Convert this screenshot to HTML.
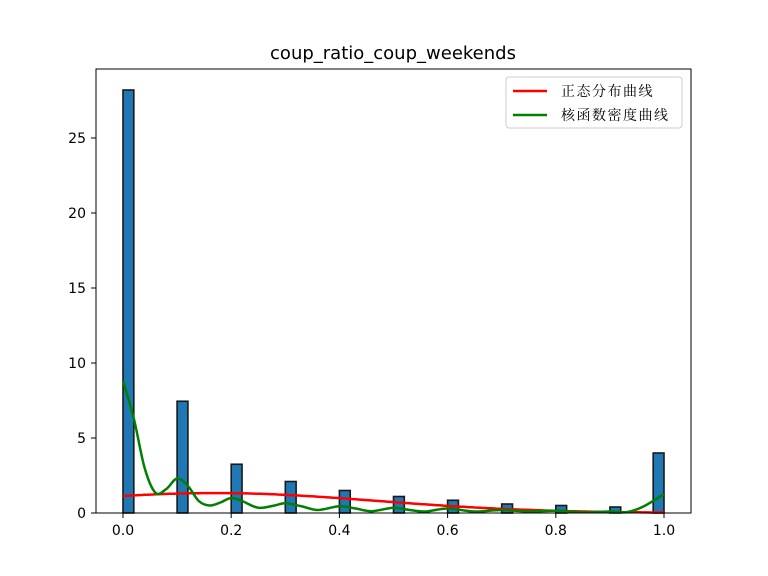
<!DOCTYPE html>
<html><head><meta charset="utf-8"><style>
body{margin:0;background:#fff}
svg{display:block;font-family:"DejaVu Sans","Liberation Sans",sans-serif}
</style></head><body>
<svg id="c" width="768" height="576">
<rect x="0" y="0" width="768" height="576" fill="#fff"/>
<text x="393" y="59" text-anchor="middle" font-size="18">coup_ratio_coup_weekends</text>
<g id="bars"></g>
<g id="lines"></g>
<rect x="96" y="69" width="595" height="444" fill="none" stroke="#000" stroke-width="1"/>
<g id="axes" font-size="14"></g>
<g>
<rect x="506" y="77" width="176" height="51" fill="#fff" stroke="#ccc" rx="3"/>
<line x1="513" y1="91" x2="547" y2="91" stroke="red" stroke-width="2.5"/>
<text x="561" y="96" font-size="14" letter-spacing="1.5" font-family="'Liberation Serif','Noto Serif CJK SC',serif">正态分布曲线</text>
<line x1="513" y1="115" x2="547" y2="115" stroke="green" stroke-width="2.5"/>
<text x="561" y="120" font-size="14" letter-spacing="1.5" font-family="'Liberation Serif','Noto Serif CJK SC',serif">核函数密度曲线</text>
</g>
</svg>
<script>
const binStarts=[0.0,0.1,0.2,0.3,0.4,0.5,0.6,0.7,0.8,0.9,0.98];
const binHeights=[28.2,7.45,3.25,2.1,1.5,1.1,0.85,0.6,0.5,0.4,4.0];
const binWidth=0.02;
const normMean=0.17, normSd=0.3;
const kdeX=[0,0.02,0.04,0.06,0.08,0.1,0.12,0.14,0.16,0.18,0.2,0.22,0.25,0.28,0.3,0.33,0.36,0.4,0.43,0.46,0.5,0.53,0.56,0.6,0.65,0.7,0.75,0.8,0.85,0.9,0.93,0.96,1.0];
const kdeY=[8.8,6.3,3.0,1.35,1.6,2.3,1.8,0.8,0.5,0.7,1.0,0.8,0.35,0.5,0.65,0.45,0.2,0.45,0.3,0.12,0.35,0.2,0.1,0.3,0.1,0.2,0.1,0.15,0.05,0.1,0.05,0.4,1.25];
const xTicks=[0,0.2,0.4,0.6,0.8,1.0];
const xTickLabels=["0.0","0.2","0.4","0.6","0.8","1.0"];
const yTicks=[0,5,10,15,20,25];
const X=v=>123+v*541, Y=v=>513-v*15;
const NS="http://www.w3.org/2000/svg";
function mk(t,a,p){const e=document.createElementNS(NS,t);for(const k in a)e.setAttribute(k,a[k]);p.appendChild(e);return e;}
const bars=document.getElementById('bars');
binStarts.forEach((s,i)=>{const r=mk('rect',{x:X(s),y:Y(binHeights[i]),width:X(s+binWidth)-X(s),height:Y(0)-Y(binHeights[i]),fill:'#1f77b4',stroke:'#1a1a1a','stroke-width':1.6},bars);

});
const lines=document.getElementById('lines');
let d='';for(let i=0;i<=200;i++){const v=i/200;const y=Math.exp(-((v-normMean)**2)/(2*normSd*normSd))/(normSd*Math.sqrt(2*Math.PI));d+=(i?'L':'M')+X(v).toFixed(1)+','+Y(y).toFixed(1);}
const n=mk('path',{d:d,fill:'none',stroke:'red','stroke-width':2.5},lines);


const P=kdeX.map((v,i)=>[X(v),Y(kdeY[i])]);
let k='M'+P[0][0]+','+P[0][1];
for(let i=0;i<P.length-1;i++){const p0=P[Math.max(0,i-1)],p1=P[i],p2=P[i+1],p3=P[Math.min(P.length-1,i+2)];
k+='C'+(p1[0]+(p2[0]-p0[0])/6)+','+(p1[1]+(p2[1]-p0[1])/6)+' '+(p2[0]-(p3[0]-p1[0])/6)+','+(p2[1]-(p3[1]-p1[1])/6)+' '+p2[0]+','+p2[1];}
const kd=mk('path',{d:k,fill:'none',stroke:'green','stroke-width':2.5},lines);


const ax=document.getElementById('axes');
xTicks.forEach((v,i)=>{mk('line',{x1:X(v),x2:X(v),y1:513,y2:518,stroke:'#000'},ax);
const t=mk('text',{x:X(v),y:535,'text-anchor':'middle'},ax);t.textContent=xTickLabels[i];

});
yTicks.forEach(v=>{mk('line',{x1:91,x2:96,y1:Y(v),y2:Y(v),stroke:'#000'},ax);
const t=mk('text',{x:86,y:Y(v)+5,'text-anchor':'end'},ax);t.textContent=v;

});
</script>
</body></html>
